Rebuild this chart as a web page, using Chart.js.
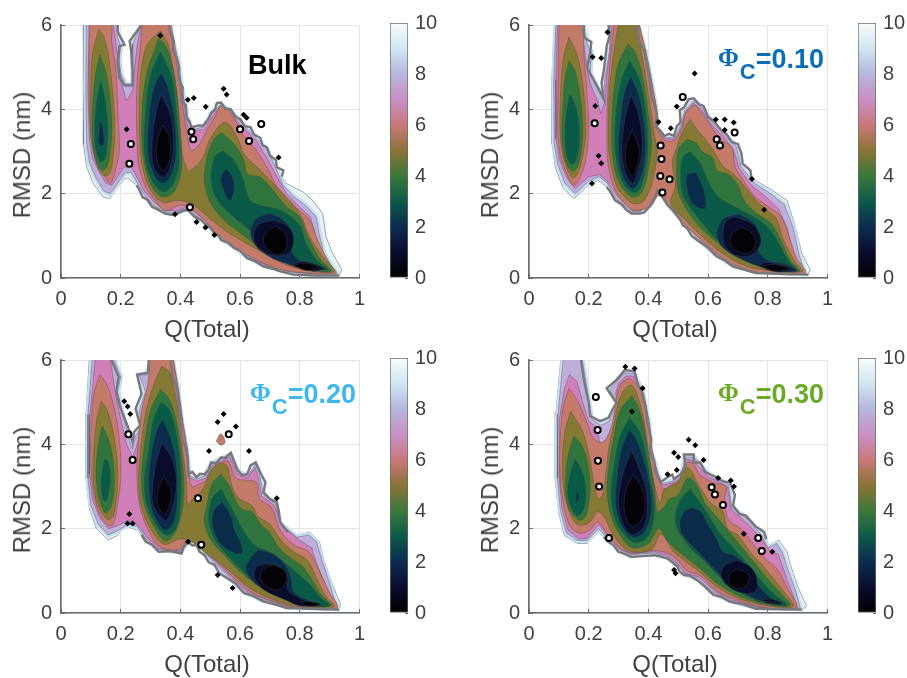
<!DOCTYPE html>
<html>
<head>
<meta charset="utf-8">
<title>Free energy landscapes</title>
<script src="https://cdn.jsdelivr.net/npm/chart.js@4"></script>
<style>
    html, body { margin: 0; padding: 0; background: #fff; }
    body { position: relative; width: 907px; height: 678px; overflow: hidden; }
    canvas { position: absolute; }
    .tag { position: absolute; font: bold 27px "Liberation Sans", Arial, sans-serif; white-space: nowrap; }
    .tag i { font: bold 25px "Liberation Serif", serif; vertical-align: 2px; margin-right: 1px; }
    .tag sub { font-size: 22px; line-height: 0; vertical-align: -11px; }
    .axis-title { position: absolute; font: 24px "Liberation Sans", Arial, sans-serif; color: #404040; white-space: nowrap; }
</style>
</head>
<body>
<script>
// ==================== Shared axes data ====================
const qTicks = [0, 0.2, 0.4, 0.6, 0.8, 1];
const rmsdTicks = [0, 2, 4, 6];
const energyTicks = [0, 2, 4, 6, 8, 10];
const qTitle = 'Q(Total)';
const rmsdTitle = 'RMSD (nm)';
// outermost to innermost contour band
const bandColors = ['#e6f2f3', '#bfaed9', '#d07fb8', '#c47a68', '#857a34', '#30743e', '#0a5a48', '#0c2c4c', '#0a0c2c', '#030308'];
const fringeColor = '#c4dff2';
const colorbarStops = ['#000000', '#0a0c2c', '#0c2c50', '#0c5a48', '#3a783a', '#8a7436', '#c8787a', '#c98fc4', '#b6b6dc', '#cfe6f0', '#f8fcfa'];

// ==================== Bulk ====================
const bulkSoftLeft = [[.077,6.05],[.075,4.75],[.075,3.18],[.086,2.63],[.108,2.24],[.141,1.92],[.163,1.88],[.19,2.16],[.212,2.35],[.223,2.37]];
const bulkCliffLow = [[.253,2.2],[.262,2.1],[.273,1.92],[.29,1.85],[.305,1.69],[.325,1.62],[.349,1.53],[.37,1.5],[.388,1.53],[.41,1.6],[.426,1.61],[.44,1.5],[.448,1.45],[.47,1.38],[.481,1.29],[.5,1.2],[.514,1.06],[.53,1],[.536,.9],[.56,.84],[.58,.71],[.6,.65],[.624,.47],[.65,.4],[.679,.27],[.71,.22],[.734,.16],[.778,.08],[.844,.06],[.932,.06]];
const bulkSoftRight = [[.941,.2],[.91,.59],[.888,.98],[.877,1.53],[.844,1.84],[.811,2.04],[.756,2.24]];
const bulkCliffTop = [[.74,2.4],[.745,2.55],[.723,2.63],[.72,2.8],[.7,2.9],[.69,3.1],[.675,3.15],[.668,3.32],[.646,3.41],[.635,3.58],[.615,3.6],[.602,3.76],[.585,3.82],[.569,4],[.55,4.02],[.536,4.16],[.522,4.15],[.515,3.98],[.503,3.92],[.495,3.78],[.476,3.61],[.46,3.62],[.437,3.57],[.43,3.72],[.421,3.8],[.418,4.1],[.404,4.2],[.408,4.51],[.395,4.7],[.396,5],[.388,5.22],[.375,5.4],[.378,5.6],[.366,5.84],[.36,6.05],[.273,6.05],[.253,5.84],[.23,5.62],[.235,5.4],[.24,4.9],[.24,4.57],[.213,4.57],[.196,4.75],[.19,5.1],[.196,5.5],[.213,5.53],[.19,5.84],[.19,6.05]];
const bulkBand8 = [[[.085,6.05],[.083,4.5],[.086,3.2],[.095,2.75],[.115,2.4],[.145,2.05],[.165,2],[.19,2.25],[.215,2.5],[.235,2.5],[.26,2.2],[.28,1.97],[.31,1.72],[.35,1.56],[.39,1.56],[.43,1.65],[.45,1.48],[.485,1.3],[.515,1.08],[.54,.92],[.58,.74],[.625,.5],[.68,.3],[.735,.2],[.78,.12],[.85,.1],[.925,.1],[.91,.25],[.88,.6],[.865,1.05],[.855,1.45],[.82,1.72],[.78,1.93],[.745,2.2],[.72,2.6],[.69,3.05],[.645,3.38],[.6,3.72],[.57,3.95],[.535,4.12],[.505,3.9],[.478,3.58],[.44,3.52],[.425,3.75],[.405,4.5],[.39,5.2],[.368,5.82],[.36,6.05],[.28,6.05],[.255,5.8],[.24,5.55],[.24,5],[.24,4.6],[.215,4.6],[.2,4.85],[.195,5.2],[.2,5.5],[.19,5.7],[.185,6.05]]];
const bulkBand7 = [[[.095,6.05],[.09,4.5],[.095,3.3],[.105,2.85],[.125,2.55],[.15,2.25],[.17,2.2],[.19,2.4],[.21,2.62],[.235,2.65],[.255,2.38],[.28,2.05],[.315,1.78],[.35,1.6],[.39,1.6],[.435,1.7],[.455,1.52],[.49,1.33],[.52,1.1],[.55,.93],[.59,.74],[.63,.52],[.685,.31],[.74,.2],[.79,.13],[.85,.11],[.915,.12],[.895,.35],[.87,.6],[.85,1.1],[.835,1.45],[.79,1.75],[.755,2],[.72,2.45],[.69,2.85],[.655,3.25],[.6,3.65],[.57,3.88],[.535,4.08],[.505,3.82],[.48,3.52],[.44,3.5],[.425,3.6],[.41,4.3],[.395,5],[.375,5.8],[.37,6.05],[.27,6.05],[.255,5.5],[.25,5.2],[.245,4.9],[.24,4.45],[.22,4.2],[.205,4.55],[.195,5],[.185,5.5],[.175,6.05]]];
const bulkBand6 = [
    [[.095,6.05],[.094,4.5],[.1,3.4],[.115,2.95],[.14,2.5],[.165,2.25],[.18,2.5],[.195,3],[.19,4],[.183,5],[.17,5.6],[.165,6.05]],
    [[.273,6.05],[.267,5.53],[.256,4.75],[.253,3.96],[.256,3.02],[.264,2.55],[.284,2.16],[.311,1.88],[.349,1.6],[.404,1.73],[.448,1.57],[.481,1.37],[.514,1.1],[.558,.86],[.613,.59],[.679,.35],[.734,.2],[.822,.12],[.921,.12],[.899,.35],[.86,.9],[.833,1.37],[.784,1.69],[.756,1.84],[.723,2.16],[.69,2.63],[.646,3.1],[.608,3.41],[.569,3.92],[.536,4.08],[.514,3.8],[.487,3.49],[.465,3.18],[.437,3.02],[.426,3.25],[.415,3.73],[.399,4.51],[.382,5.29],[.366,5.84],[.36,6.05]]
];
const bulkBand5 = [
    [[.127,5.9],[.105,5.3],[.1,4.5],[.098,3.6],[.105,3.1],[.125,2.6],[.145,2.42],[.165,2.5],[.175,2.9],[.18,3.5],[.175,4.3],[.16,5.2],[.145,5.7]],
    [[.333,5.86],[.295,5.6],[.278,5.3],[.266,4.75],[.262,3.96],[.264,3.18],[.273,2.63],[.295,2.16],[.338,1.8],[.393,1.84],[.437,1.76],[.492,1.45],[.547,1.14],[.602,.9],[.679,.59],[.756,.31],[.844,.16],[.915,.16],[.877,.51],[.833,.98],[.8,1.53],[.734,2.08],[.679,2.47],[.657,2.63],[.613,2.94],[.591,3.33],[.553,3.69],[.525,3.57],[.492,3.18],[.476,2.86],[.448,2.63],[.426,2.55],[.399,3.18],[.388,3.96],[.377,4.75],[.36,5.53]]
];
const bulkBand4 = [
    [[.13,5.3],[.115,4.8],[.107,4.2],[.104,3.5],[.11,3],[.125,2.65],[.14,2.55],[.155,2.65],[.165,3],[.17,3.5],[.165,4.2],[.15,4.9]],
    [[.327,5.69],[.284,4.75],[.27,3.57],[.278,2.78],[.305,2.16],[.344,1.92],[.382,2.08],[.404,2.63],[.399,3.57],[.382,4.75],[.355,5.45]],
    [[.536,3.45],[.509,3.25],[.487,2.78],[.481,2.24],[.503,1.76],[.547,1.37],[.602,1.06],[.668,.71],[.734,.43],[.8,.24],[.905,.16],[.866,.47],[.822,1.06],[.8,1.45],[.756,1.69],[.701,2.16],[.668,2.39],[.624,2.47],[.613,2.78],[.58,3.18]]
];
const bulkBand3 = [
    [[.132,4.67],[.12,4.2],[.113,3.6],[.115,3.1],[.125,2.85],[.135,2.75],[.148,2.85],[.155,3.2],[.157,3.6],[.15,4.1],[.14,4.5]],
    [[.333,5.37],[.3,4.82],[.284,3.96],[.28,2.94],[.305,2.31],[.344,2.04],[.377,2.24],[.396,2.78],[.388,3.8],[.371,4.75]],
    [[.542,3.02],[.514,2.86],[.503,2.31],[.525,1.84],[.591,1.37],[.646,1.06],[.712,.63],[.767,.35],[.833,.24],[.894,.2],[.855,.43],[.822,.82],[.795,1.29],[.734,1.61],[.69,1.69],[.635,1.84],[.608,2.39],[.58,2.78]]
];
const bulkBand2 = [
    [[.13,3.73],[.127,3.4],[.128,3.16],[.142,3.16],[.143,3.4],[.136,3.65]],
    [[.336,4.86],[.311,4.51],[.295,3.8],[.292,2.94],[.316,2.39],[.344,2.25],[.371,2.47],[.386,3.02],[.377,3.96],[.355,4.59]],
    [[.553,2.59],[.536,2.39],[.541,2.16],[.564,1.83],[.58,2.08],[.575,2.39]],
    [[.7,1.53],[.655,1.41],[.635,1.12],[.65,.78],[.7,.5],[.76,.33],[.82,.2],[.885,.2],[.85,.33],[.8,.42],[.775,.63],[.775,.95],[.76,1.25],[.73,1.45]]
];
const bulkBand1 = [
    [[.336,4.35],[.319,3.96],[.305,3.18],[.311,2.63],[.344,2.39],[.366,2.63],[.377,3.18],[.366,3.88]],
    [[.712,1.37],[.668,1.29],[.646,1.06],[.657,.75],[.712,.53],[.762,.59],[.78,.9],[.762,1.22]],
    [[.772,.31],[.811,.39],[.877,.24],[.844,.16]]
];
const bulkBand0 = [
    [[.341,3.63],[.322,3.25],[.322,2.78],[.344,2.55],[.366,2.86],[.363,3.33]],
    [[.718,1.22],[.685,1.06],[.679,.82],[.712,.57],[.747,.6],[.758,.86],[.745,1.1]],
    [[.778,.3],[.816,.35],[.86,.26],[.822,.18]]
];
const bulkDots = [[.545,4.49],[.555,4.35],[.445,4.27],[.425,4.23],[.485,4.06],[.622,3.8],[.612,3.87],[.729,2.86],[.382,1.51],[.454,1.33],[.484,1.2],[.514,1.02],[.333,5.75],[.22,3.53]];
const bulkRings = [[.63,3.25],[.443,3.29],[.437,3.47],[.671,3.65],[.6,3.53],[.234,3.18],[.229,2.71],[.432,1.68]];

// ==================== Phi 0.10 ====================
const phi10SoftLeft = [[.085,6.05],[.077,4.75],[.077,3.18],[.088,2.63],[.112,2.16],[.151,1.88],[.205,2.24],[.233,2.31]];
const phi10CliffLow = [[.26,2.16],[.272,2.05],[.288,1.84],[.31,1.75],[.325,1.62],[.343,1.53],[.37,1.53],[.385,1.55],[.403,1.69],[.42,1.9],[.431,2.08],[.445,1.95],[.464,1.73],[.48,1.62],[.508,1.37],[.515,1.25],[.53,1.18],[.545,1],[.563,.9],[.595,.75],[.629,.51],[.655,.42],[.684,.27],[.72,.2],[.76,.12],[.936,.08]];
const phi10SoftRight = [[.942,.2],[.914,.59],[.892,1.22],[.865,1.84],[.815,2.08],[.76,2.31]];
const phi10CliffTop = [[.745,2.4],[.742,2.55],[.716,2.71],[.712,2.95],[.7,3.18],[.68,3.22],[.662,3.41],[.645,3.5],[.618,3.73],[.6,3.82],[.585,4.08],[.57,4.12],[.552,4.26],[.535,4.24],[.519,4.04],[.505,3.98],[.508,3.69],[.495,3.6],[.486,3.37],[.47,3.42],[.453,3.37],[.44,3.5],[.425,3.57],[.428,3.9],[.42,4.12],[.41,4.3],[.403,4.75],[.395,5],[.387,5.37],[.37,5.6],[.359,6.05],[.266,6.05],[.27,5.73],[.261,5.53],[.25,4.9],[.243,4.63],[.25,4.25],[.228,4.55],[.195,4.98],[.205,5.35],[.209,5.6],[.184,5.7],[.184,6.05]];
const phi10Band8 = [[[.09,6.05],[.083,4.7],[.084,3.2],[.096,2.7],[.12,2.25],[.155,2],[.2,2.3],[.235,2.4],[.262,2.25],[.29,1.9],[.343,1.57],[.372,1.57],[.405,1.73],[.433,2.12],[.466,1.75],[.51,1.39],[.532,1.2],[.565,.93],[.63,.54],[.685,.3],[.76,.15],[.925,.1],[.905,.55],[.885,1.2],[.855,1.75],[.81,2],[.755,2.25],[.71,2.65],[.695,3.12],[.658,3.37],[.615,3.68],[.583,4.02],[.552,4.2],[.522,3.98],[.51,3.65],[.488,3.33],[.453,3.33],[.43,3.53],[.424,4.1],[.407,4.75],[.39,5.37],[.362,6.05],[.272,6.05],[.27,5.4],[.255,4.8],[.25,4.3],[.235,4.45],[.205,4.85],[.21,5.35],[.195,5.55],[.18,6.05]]];
const phi10Band7 = [[[.095,6.05],[.09,4.7],[.09,3.3],[.102,2.8],[.125,2.4],[.155,2.12],[.2,2.4],[.235,2.45],[.262,2.3],[.295,1.95],[.345,1.6],[.375,1.6],[.408,1.78],[.436,2.15],[.468,1.78],[.51,1.42],[.535,1.22],[.57,.95],[.635,.57],[.69,.32],[.77,.15],[.915,.13],[.885,.6],[.865,1.2],[.835,1.65],[.79,1.95],[.745,2.2],[.705,2.6],[.685,3.05],[.655,3.33],[.61,3.65],[.58,3.98],[.552,4.15],[.525,3.95],[.512,3.6],[.49,3.3],[.455,3.3],[.432,3.48],[.428,4],[.41,4.7],[.393,5.3],[.368,6.05],[.278,6.05],[.272,5.4],[.26,4.8],[.255,4.2],[.24,3.9],[.23,4.2],[.205,4.6],[.19,5.2],[.175,6.05]]];
const phi10Band6 = [
    [[.1,6.05],[.098,4.7],[.096,3.5],[.105,2.9],[.125,2.5],[.145,2.2],[.165,2.3],[.19,2.8],[.2,3.5],[.195,4.3],[.185,5.2],[.17,6.05]],
    [[.285,6.05],[.27,5],[.262,4],[.262,3],[.27,2.5],[.295,2],[.345,1.62],[.375,1.62],[.409,1.7],[.435,1.95],[.468,1.72],[.51,1.35],[.54,1.15],[.58,.88],[.64,.52],[.7,.28],[.78,.12],[.925,.12],[.895,.5],[.875,.9],[.845,1.45],[.8,1.7],[.755,1.95],[.72,2.3],[.69,2.65],[.68,3.1],[.64,3.3],[.61,3.6],[.58,3.9],[.553,4.1],[.525,3.9],[.515,3.6],[.49,3.28],[.46,3.25],[.435,3.45],[.43,3.9],[.415,4.5],[.4,5.1],[.38,5.7],[.362,6.05]]
];
const phi10Band5 = [
    [[.134,5.72],[.115,5.2],[.106,4.4],[.104,3.5],[.112,2.95],[.13,2.55],[.148,2.37],[.165,2.5],[.18,2.9],[.19,3.4],[.185,4.3],[.165,5.2]],
    [[.3,6.05],[.285,5.4],[.27,4.5],[.266,3.6],[.268,3],[.28,2.5],[.3,2.1],[.345,1.78],[.38,1.8],[.405,2.1],[.42,2.5],[.43,3],[.42,3.4],[.41,3.9],[.39,4.8],[.37,5.6],[.36,6.05]],
    [[.54,3.76],[.51,3.4],[.49,3],[.48,2.75],[.49,2.2],[.475,1.75],[.52,1.4],[.57,1.05],[.63,.68],[.69,.4],[.76,.22],[.915,.15],[.89,.4],[.85,.95],[.83,1.4],[.79,1.65],[.76,1.85],[.72,2.2],[.68,2.5],[.65,2.65],[.62,3],[.59,3.3],[.565,3.5]]
];
const phi10Band4 = [
    [[.134,5.15],[.12,4.7],[.113,4],[.11,3.4],[.118,2.9],[.13,2.65],[.147,2.53],[.163,2.65],[.175,3],[.18,3.5],[.172,4.3],[.155,4.9]],
    [[.332,5.55],[.3,5.1],[.282,4.3],[.277,3.4],[.282,2.8],[.3,2.3],[.345,1.92],[.38,2.05],[.4,2.6],[.41,3.2],[.4,3.9],[.385,4.6],[.36,5.3]],
    [[.53,3.29],[.5,3.05],[.495,2.5],[.5,2.05],[.53,1.6],[.58,1.15],[.63,.85],[.7,.48],[.77,.3],[.905,.16],[.875,.42],[.84,.95],[.81,1.3],[.76,1.55],[.72,1.85],[.7,2.2],[.67,2.45],[.63,2.55],[.615,2.85],[.58,3],[.56,3.2]]
];
const phi10Band3 = [
    [[.136,4.35],[.125,3.9],[.12,3.4],[.125,2.95],[.135,2.75],[.148,2.7],[.16,2.85],[.168,3.2],[.165,3.8],[.15,4.2]],
    [[.337,5.15],[.31,4.7],[.293,4],[.288,3.2],[.298,2.6],[.32,2.2],[.35,2.03],[.375,2.15],[.395,2.8],[.398,3.3],[.39,4],[.37,4.7]],
    [[.54,3],[.515,2.85],[.508,2.3],[.52,1.9],[.57,1.4],[.62,.98],[.68,.6],[.74,.38],[.8,.25],[.9,.16],[.87,.4],[.835,.85],[.8,1.2],[.76,1.42],[.7,1.65],[.66,1.8],[.63,1.95],[.6,2.3],[.575,2.7]]
];
const phi10Band2 = [
    [[.341,4.78],[.32,4.4],[.305,3.7],[.3,3],[.315,2.4],[.348,2.12],[.375,2.4],[.39,3],[.385,3.7],[.365,4.4]],
    [[.56,2.5],[.53,2.45],[.53,2.1],[.55,1.75],[.59,1.65],[.585,2.1]],
    [[.7,1.52],[.65,1.4],[.63,1.05],[.65,.72],[.72,.42],[.76,.3],[.82,.16],[.895,.17],[.86,.33],[.8,.42],[.77,.62],[.77,.95],[.76,1.25],[.73,1.42]]
];
const phi10Band1 = [
    [[.341,4.33],[.325,3.9],[.312,3.2],[.318,2.6],[.347,2.25],[.368,2.6],[.38,3.1],[.375,3.6],[.36,4.05]],
    [[.69,1.45],[.66,1.35],[.65,1.05],[.66,.72],[.7,.52],[.75,.56],[.777,.85],[.765,1.15],[.74,1.32]],
    [[.77,.3],[.8,.37],[.88,.22],[.835,.14]]
];
const phi10Band0 = [
    [[.345,3.5],[.325,3.1],[.325,2.7],[.347,2.42],[.366,2.75],[.368,3.1]],
    [[.71,1.2],[.68,1.05],[.675,.8],[.71,.6],[.745,.62],[.76,.88],[.74,1.12]],
    [[.78,.28],[.82,.32],[.87,.22],[.82,.16]]
];
const phi10Dots = [[.213,5.24],[.242,5.22],[.263,5.83],[.555,4.85],[.495,4.07],[.434,3.7],[.475,3.55],[.626,3.76],[.656,3.76],[.656,3.51],[.686,3.69],[.222,4.08],[.233,2.9],[.242,2.72],[.211,2.24],[.747,2.35],[.788,1.62]];
const phi10Rings = [[.22,3.67],[.441,3.14],[.444,2.82],[.44,2.42],[.471,2.34],[.447,2.03],[.629,3.29],[.64,3.14],[.515,4.29],[.689,3.45]];

// ==================== Phi 0.20 ====================
const phi20SoftLeft = [[.095,6.05],[.084,4.75],[.084,3.18],[.095,2.47],[.119,2],[.157,1.73],[.19,1.84],[.213,2.08],[.256,1.96]];
const phi20CliffLow = [[.27,1.85],[.284,1.69],[.305,1.62],[.327,1.45],[.365,1.47],[.404,1.41],[.41,1.55],[.426,1.69],[.44,1.6],[.454,1.61],[.465,1.45],[.481,1.37],[.495,1.2],[.514,1.14],[.53,.95],[.558,.82],[.585,.7],[.613,.47],[.645,.4],[.679,.27],[.72,.2],[.756,.12],[.932,.08]];
const phi20SoftRight = [[.937,.2],[.91,.67],[.882,1.22],[.866,1.69],[.833,1.92],[.789,1.84]];
const phi20CliffTop = [[.76,1.92],[.734,2.16],[.73,2.4],[.723,2.63],[.7,2.7],[.679,2.86],[.685,3.1],[.668,3.33],[.652,3.57],[.635,3.5],[.624,3.29],[.605,3.27],[.591,3.41],[.58,3.6],[.569,3.8],[.55,3.68],[.536,3.69],[.52,3.55],[.503,3.57],[.495,3.4],[.481,3.29],[.465,3.3],[.454,3.22],[.44,3.35],[.426,3.29],[.425,3.7],[.415,3.96],[.405,4.1],[.399,4.59],[.395,5],[.388,5.37],[.375,5.55],[.366,6.05],[.295,6.05],[.29,5.7],[.255,5.65],[.27,5.2],[.25,4.85],[.265,4.45],[.245,4.3],[.24,4.05],[.225,4.4],[.2,4.85],[.185,5.25],[.193,5.6],[.166,6.05]];
const phi20Band8 = [[[.105,6.05],[.09,4.7],[.09,3.2],[.1,2.55],[.125,2.1],[.158,1.85],[.19,1.95],[.225,2.1],[.255,2.05],[.285,1.75],[.328,1.5],[.403,1.45],[.426,1.73],[.456,1.65],[.484,1.4],[.516,1.17],[.56,.86],[.615,.5],[.68,.3],[.76,.14],[.925,.1],[.9,.7],[.875,1.25],[.855,1.7],[.83,1.85],[.79,1.8],[.735,2.12],[.72,2.58],[.678,2.82],[.665,3.3],[.652,3.52],[.625,3.25],[.59,3.36],[.568,3.76],[.535,3.65],[.503,3.53],[.482,3.25],[.455,3.18],[.43,3.25],[.42,3.9],[.403,4.6],[.392,5.3],[.372,6.05],[.3,6.05],[.295,5.65],[.262,5.65],[.283,5.25],[.262,4.8],[.27,4.4],[.25,4.2],[.238,3.9],[.222,4.3],[.205,4.75],[.19,5.25],[.2,5.6],[.175,6.05]]];
const phi20Band7 = [[[.115,6.05],[.097,4.7],[.095,3.3],[.105,2.7],[.13,2.25],[.16,2],[.19,2.07],[.225,2.2],[.255,2.1],[.29,1.78],[.33,1.52],[.4,1.47],[.428,1.77],[.46,1.68],[.486,1.42],[.52,1.2],[.565,.88],[.62,.52],[.685,.32],[.77,.14],[.915,.13],[.885,.7],[.855,1.2],[.84,1.55],[.8,1.72],[.74,2.08],[.715,2.55],[.672,2.78],[.66,3.25],[.65,3.45],[.625,3.2],[.59,3.3],[.565,3.7],[.535,3.6],[.505,3.48],[.485,3.2],[.457,3.13],[.432,3.2],[.425,3.85],[.408,4.55],[.395,5.25],[.376,6.05],[.305,6.05],[.3,5.6],[.29,5.2],[.275,4.8],[.26,4.1],[.24,3.7],[.22,4],[.2,4.6],[.18,5.3],[.165,6.05]]];
const phi20Band6 = [
    [[.13,5.65],[.11,5.2],[.102,4.5],[.1,3.5],[.11,2.8],[.13,2.35],[.155,2.1],[.175,2.1],[.19,2.6],[.2,3.2],[.197,4],[.18,4.8],[.155,5.4]],
    [[.3,6.05],[.29,5.4],[.27,4.8],[.258,4],[.255,3.1],[.265,2.5],[.29,2],[.33,1.58],[.4,1.52],[.43,1.82],[.465,1.7],[.49,1.43],[.525,1.2],[.57,.9],[.625,.55],[.69,.33],[.78,.14],[.925,.12],[.895,.55],[.865,1],[.83,1.45],[.78,1.62],[.735,1.95],[.705,2.5],[.665,2.72],[.655,3.1],[.62,3.15],[.585,3.2],[.56,3.6],[.535,3.55],[.505,3.4],[.487,3.15],[.46,3.05],[.44,3],[.43,3.2],[.425,3.75],[.41,4.4],[.397,5.1],[.38,5.8],[.37,6.05]],
    [[.52,4.08],[.536,4.25],[.55,4.05],[.535,3.98]]
];
const phi20Band5 = [
    [[.135,5.02],[.12,4.6],[.11,3.9],[.108,3.2],[.115,2.75],[.135,2.4],[.157,2.22],[.175,2.3],[.187,2.8],[.19,3.3],[.18,4.1],[.155,4.8]],
    [[.337,5.85],[.305,5.3],[.28,4.6],[.265,3.7],[.26,3],[.27,2.5],[.3,2],[.345,1.63],[.395,1.75],[.43,1.72],[.48,1.45],[.52,1.25],[.575,.93],[.63,.6],[.69,.38],[.78,.17],[.915,.15],[.885,.42],[.855,.85],[.825,1.25],[.78,1.45],[.74,1.7],[.7,2.1],[.66,2.3],[.64,2.55],[.6,2.7],[.575,2.95],[.555,3.5],[.53,3.55],[.5,3.35],[.48,3],[.46,2.8],[.44,2.7],[.425,2.55],[.42,3.1],[.405,4],[.39,4.9],[.365,5.7]]
];
const phi20Band4 = [
    [[.138,4.43],[.125,4],[.118,3.4],[.122,2.9],[.135,2.55],[.15,2.38],[.167,2.5],[.178,3],[.175,3.6],[.16,4.1]],
    [[.333,5.3],[.3,4.8],[.28,4],[.27,3.3],[.275,2.7],[.3,2.2],[.347,1.72],[.38,1.88],[.405,2.4],[.412,3],[.403,3.8],[.385,4.6],[.36,5.1]],
    [[.536,3.29],[.505,3.05],[.49,2.6],[.48,2.2],[.5,1.75],[.54,1.42],[.59,1.05],[.64,.75],[.7,.48],[.78,.25],[.905,.17],[.87,.45],[.84,.8],[.81,1.1],[.77,1.3],[.73,1.55],[.7,1.9],[.67,2.1],[.64,2.4],[.61,2.45],[.59,2.6],[.565,3]]
];
const phi20Band3 = [
    [[.146,3.65],[.135,3.2],[.14,2.72],[.152,2.65],[.165,3.2],[.157,3.6]],
    [[.336,5],[.31,4.6],[.295,3.9],[.28,3.2],[.285,2.65],[.31,2.2],[.35,1.85],[.385,2],[.4,2.6],[.402,3.3],[.39,4.1],[.365,4.8]],
    [[.536,2.94],[.505,2.7],[.495,2.2],[.515,1.75],[.56,1.35],[.62,.92],[.68,.55],[.75,.33],[.83,.17],[.9,.17],[.87,.36],[.83,.7],[.79,.95],[.74,1.25],[.7,1.45],[.65,1.6],[.62,1.85],[.6,2.1],[.57,2.5]]
];
const phi20Band2 = [
    [[.339,4.6],[.315,4.2],[.295,3.3],[.3,2.6],[.32,2.2],[.35,1.96],[.38,2.2],[.39,2.9],[.385,3.6],[.365,4.2]],
    [[.54,2.63],[.51,2.4],[.51,2],[.54,1.6],[.59,1.4],[.607,1.45],[.6,1.7],[.58,2],[.57,2.3]],
    [[.66,1.5],[.63,1.25],[.62,1],[.66,.65],[.72,.42],[.78,.25],[.87,.18],[.83,.3],[.78,.5],[.77,.85],[.75,1.15],[.71,1.4]]
];
const phi20Band1 = [
    [[.339,4.04],[.32,3.6],[.307,3],[.31,2.55],[.35,2.2],[.375,2.55],[.387,3.1],[.375,3.6]],
    [[.69,1.17],[.655,1.1],[.648,.85],[.68,.55],[.75,.32],[.8,.17],[.865,.17],[.8,.35],[.76,.55],[.76,.85],[.74,1.05]]
];
const phi20Band0 = [
    [[.343,3.25],[.325,2.9],[.325,2.55],[.347,2.35],[.366,2.6],[.37,2.9]],
    [[.71,1.15],[.68,1.05],[.668,.85],[.69,.62],[.73,.55],[.755,.75],[.75,1]],
    [[.8,.27],[.84,.26],[.87,.2],[.82,.17]]
];
const phi20Dots = [[.545,4.72],[.525,4.53],[.586,4.42],[.496,3.84],[.212,5.02],[.223,4.9],[.232,4.72],[.63,3.84],[.723,2.72],[.525,.9],[.575,.59],[.223,2.12],[.24,2.12],[.229,2.35],[.426,1.69]];
const phi20Rings = [[.24,3.63],[.459,2.72],[.47,1.62],[.226,4.24],[.562,4.24]];

// ==================== Phi 0.30 ====================
const phi30SoftLeft = [[.107,6.05],[.09,4.75],[.088,3.18],[.099,2.39],[.118,1.84],[.161,1.65],[.195,1.65],[.233,1.92]];
const phi30CliffLow = [[.25,1.8],[.266,1.69],[.285,1.6],[.299,1.45],[.32,1.4],[.343,1.33],[.38,1.35],[.42,1.37],[.44,1.34],[.464,1.29],[.48,1.2],[.497,1.1],[.505,.98],[.519,.9],[.54,.88],[.563,.78],[.59,.62],[.618,.43],[.645,.38],[.673,.27],[.72,.2],[.76,.1],[.914,.08]];
const phi30SoftRight = [[.93,.16],[.903,.59],[.876,1.14],[.865,1.45],[.837,1.73],[.804,1.61]];
const phi30CliffTop = [[.795,1.75],[.788,1.92],[.76,2.05],[.727,2.31],[.705,2.35],[.684,2.55],[.69,2.8],[.673,3.1],[.65,3.12],[.629,3.22],[.607,3.29],[.59,3.35],[.574,3.57],[.552,3.57],[.552,3.76],[.519,3.76],[.525,3.5],[.508,3.29],[.486,3.18],[.48,3.28],[.46,3.2],[.442,3.1],[.425,3.33],[.42,3.6],[.403,3.88],[.41,4.1],[.398,4.51],[.39,4.9],[.376,5.29],[.365,5.4],[.354,5.73],[.321,5.76],[.293,5.53],[.26,5.33],[.293,4.98],[.282,4.86],[.266,4.63],[.238,4.55],[.205,4.67],[.2,5],[.184,5.53],[.173,6.05]];
const phi30Band8 = [[[.115,6.05],[.097,4.7],[.095,3.2],[.105,2.45],[.125,1.9],[.162,1.72],[.195,1.72],[.233,2],[.266,1.75],[.3,1.5],[.343,1.38],[.42,1.42],[.464,1.33],[.5,1.13],[.52,.93],[.565,.82],[.62,.47],[.675,.29],[.76,.13],[.91,.1],[.89,.6],[.862,1.14],[.85,1.42],[.83,1.65],[.8,1.55],[.78,1.85],[.725,2.27],[.68,2.5],[.668,3.05],[.63,3.17],[.607,3.25],[.574,3.52],[.552,3.7],[.522,3.7],[.512,3.29],[.486,3.14],[.445,3.06],[.43,3.33],[.408,3.88],[.402,4.5],[.38,5.25],[.352,5.68],[.322,5.7],[.296,5.5],[.27,5.3],[.298,4.98],[.285,4.8],[.268,4.55],[.24,4.45],[.21,4.6],[.19,5.5],[.178,6.05]]];
const phi30Band7 = [[[.135,5.65],[.118,5.3],[.102,4.6],[.1,3.3],[.11,2.5],[.13,1.97],[.165,1.76],[.195,1.77],[.233,2.1],[.266,1.8],[.302,1.52],[.345,1.4],[.42,1.45],[.464,1.37],[.5,1.16],[.522,.95],[.57,.85],[.625,.5],[.68,.31],[.77,.13],[.9,.13],[.875,.6],[.85,1.1],[.835,1.4],[.81,1.45],[.775,1.8],[.72,2.2],[.678,2.45],[.665,3],[.625,3.15],[.605,3.2],[.572,3.45],[.55,3.62],[.525,3.65],[.515,3.25],[.488,3.1],[.447,3.03],[.432,3.28],[.41,3.85],[.405,4.45],[.385,5.2],[.35,5.62],[.325,5.62],[.3,5.45],[.29,5.2],[.3,4.9],[.288,4.5],[.265,4.1],[.24,4],[.225,4.4],[.2,4.55],[.18,5],[.16,5.5]]];
const phi30Band6 = [[[.134,5.33],[.115,4.9],[.105,4.2],[.104,3.2],[.115,2.6],[.135,2.1],[.165,1.9],[.2,1.95],[.23,2.15],[.25,2],[.275,1.75],[.305,1.55],[.345,1.42],[.42,1.48],[.47,1.4],[.505,1.2],[.53,1],[.575,.88],[.63,.52],[.69,.33],[.78,.14],[.895,.12],[.865,.6],[.83,1.05],[.79,1.3],[.75,1.65],[.71,2],[.67,2.2],[.655,2.7],[.66,3],[.615,3.1],[.57,3.3],[.55,3.55],[.525,3.55],[.51,3.2],[.48,3.05],[.45,2.95],[.435,3.2],[.415,3.8],[.405,4.3],[.385,5.1],[.35,5.5],[.33,5.55],[.305,5.4],[.29,5],[.285,4.7],[.27,4.3],[.245,4.05],[.215,4.15],[.195,4.5],[.165,5]]];
const phi30Band5 = [[[.14,4.78],[.12,4.3],[.112,3.5],[.118,2.85],[.135,2.4],[.16,2.1],[.19,2.1],[.21,2.2],[.23,2.4],[.25,2.3],[.275,1.95],[.31,1.6],[.345,1.45],[.41,1.5],[.442,1.87],[.485,1.45],[.52,1.25],[.57,.98],[.63,.62],[.7,.35],[.79,.18],[.885,.15],[.855,.5],[.815,.85],[.78,1.15],[.74,1.45],[.7,1.85],[.665,2],[.65,2.4],[.61,2.6],[.585,2.85],[.56,3.15],[.54,3.4],[.52,3.45],[.5,3.1],[.47,3],[.45,2.9],[.44,2.6],[.425,2.9],[.41,3.4],[.395,4.1],[.375,4.9],[.345,5.4],[.32,5.3],[.3,5],[.285,4.5],[.27,4],[.26,3.5],[.25,2.9],[.235,2.7],[.22,3],[.205,3.6],[.18,4.3]]];
const phi30Band4 = [
    [[.15,4.2],[.13,3.7],[.122,3],[.13,2.55],[.15,2.3],[.175,2.2],[.195,2.4],[.205,3],[.195,3.6],[.175,4]],
    [[.345,5.15],[.305,4.8],[.285,4.2],[.268,3.5],[.262,2.8],[.28,2.2],[.31,1.8],[.345,1.55],[.4,1.65],[.435,2],[.465,1.7],[.52,1.35],[.575,1.05],[.635,.68],[.71,.38],[.8,.2],[.875,.18],[.845,.45],[.8,.8],[.76,1.15],[.72,1.5],[.68,1.85],[.65,2.1],[.62,2.35],[.59,2.6],[.565,3],[.54,3.2],[.525,3.15],[.5,2.8],[.47,2.7],[.45,2.5],[.43,2.4],[.42,3],[.405,3.6],[.385,4.4],[.365,4.9]]
];
const phi30Band3 = [
    [[.154,3.65],[.135,3.2],[.13,2.8],[.145,2.45],[.165,2.3],[.185,2.5],[.19,3],[.175,3.4]],
    [[.337,4.63],[.305,4.2],[.285,3.5],[.275,2.9],[.285,2.3],[.315,1.9],[.35,1.68],[.39,1.75],[.415,2.1],[.42,2.6],[.405,3.2],[.39,3.8],[.37,4.3]],
    [[.54,2.94],[.51,2.7],[.49,2.3],[.5,1.95],[.54,1.55],[.585,1.25],[.64,.85],[.7,.52],[.78,.25],[.865,.18],[.82,.45],[.78,.75],[.74,1.1],[.69,1.5],[.65,1.8],[.62,2.1],[.585,2.5]]
];
const phi30Band2 = [
    [[.16,2.85],[.158,2.65],[.165,2.65],[.165,2.85]],
    [[.337,4.35],[.31,3.9],[.295,3.2],[.29,2.6],[.305,2.15],[.345,1.8],[.385,1.9],[.41,2.4],[.405,3],[.385,3.6],[.36,4.1]],
    [[.545,2.5],[.52,2.4],[.505,2.15],[.515,1.85],[.56,1.5],[.62,1.05],[.68,.65],[.76,.33],[.84,.2],[.8,.42],[.77,.65],[.74,1.05],[.69,1.35],[.65,1.45],[.63,1.75],[.6,2.1],[.575,2.4]]
];
const phi30Band1 = [
    [[.343,3.85],[.315,3.3],[.3,2.7],[.31,2.2],[.345,1.86],[.385,2.05],[.397,2.5],[.39,3],[.365,3.5]],
    [[.695,1.25],[.66,1.15],[.642,.95],[.66,.68],[.71,.48],[.76,.52],[.762,.85],[.74,1.1]],
    [[.78,.3],[.81,.33],[.85,.22],[.8,.23]]
];
const phi30Band0 = [
    [[.348,3.28],[.325,2.9],[.32,2.4],[.345,2.05],[.375,2.2],[.39,2.6],[.375,3]],
    [[.7,1.05],[.675,.95],[.672,.7],[.7,.58],[.73,.65],[.735,.9]],
    [[.79,.28],[.815,.27],[.83,.25],[.8,.24]]
];
const phi30Dots = [[.535,4.11],[.557,3.98],[.486,3.8],[.5,3.7],[.464,3.29],[.495,3.39],[.585,3.63],[.634,3.2],[.676,3.14],[.687,3],[.345,4.78],[.491,.94],[.486,1.02],[.381,5.33],[.323,5.84],[.354,5.8],[.815,1.45],[.72,1.88]];
const phi30Rings = [[.224,5.12],[.23,4.34],[.231,3.61],[.235,3],[.612,2.98],[.623,2.81],[.65,2.56],[.268,1.78],[.768,1.78],[.78,1.47]];

// ==================== Panels ====================
const panels = [
    { left: 61, top: 23, soft: [bulkSoftLeft, bulkCliffLow, bulkSoftRight, bulkCliffTop], cliffs: [bulkCliffLow, bulkCliffTop], bands: [bulkBand8, bulkBand7, bulkBand6, bulkBand5, bulkBand4, bulkBand3, bulkBand2, bulkBand1, bulkBand0], dots: bulkDots, rings: bulkRings },
    { left: 529, top: 23, soft: [phi10SoftLeft, phi10CliffLow, phi10SoftRight, phi10CliffTop], cliffs: [phi10CliffLow, phi10CliffTop], bands: [phi10Band8, phi10Band7, phi10Band6, phi10Band5, phi10Band4, phi10Band3, phi10Band2, phi10Band1, phi10Band0], dots: phi10Dots, rings: phi10Rings },
    { left: 61, top: 358, soft: [phi20SoftLeft, phi20CliffLow, phi20SoftRight, phi20CliffTop], cliffs: [phi20CliffLow, phi20CliffTop], bands: [phi20Band8, phi20Band7, phi20Band6, phi20Band5, phi20Band4, phi20Band3, phi20Band2, phi20Band1, phi20Band0], dots: phi20Dots, rings: phi20Rings },
    { left: 529, top: 358, soft: [phi30SoftLeft, phi30CliffLow, phi30SoftRight, phi30CliffTop], cliffs: [phi30CliffLow, phi30CliffTop], bands: [phi30Band8, phi30Band7, phi30Band6, phi30Band5, phi30Band4, phi30Band3, phi30Band2, phi30Band1, phi30Band0], dots: phi30Dots, rings: phi30Rings }
];
const tags = [
    { left: 248, top: 50, color: '#000', html: 'Bulk' },
    { left: 718, top: 44, color: '#0a6fb8', html: '<i>Φ</i><sub>C</sub>=0.10' },
    { left: 250, top: 379, color: '#3db8ee', html: '<i>Φ</i><sub>C</sub>=0.20' },
    { left: 718, top: 379, color: '#6aaa26', html: '<i>Φ</i><sub>C</sub>=0.30' }
];

const FONT = { family: '"Liberation Sans", Arial, sans-serif', size: 20 };
const TEXT = '#404040';
const AXIS = '#6a6a6a';
const PLOT_W = 303, PLOT_H = 255, PAD_L = 61, PAD_T = 23, PAD_R = 14, PAD_B = 60;

function toPoints(list) {
    return list.map(p => ({ x: p[0], y: p[1] }));
}

function polygon(list, color, lineColor, lineWidth, z, curve) {
    return {
        data: toPoints(list.concat([list[0]])),
        showLine: true,
        fill: 'shape',
        backgroundColor: color,
        borderColor: lineColor,
        borderWidth: lineWidth,
        pointRadius: 0,
        tension: curve,
        order: z
    };
}

// ==================== Main contour chart ====================
function makeChart(panel) {
    const canvas = document.createElement('canvas');
    canvas.style.left = (panel.left - PAD_L) + 'px';
    canvas.style.top = (panel.top - PAD_T) + 'px';
    canvas.width = PAD_L + PLOT_W + PAD_R;
    canvas.height = PAD_T + PLOT_H + PAD_B;
    document.body.appendChild(canvas);

    const datasets = [];
    let z = 1000;
    datasets.push(polygon(panel.soft.flat(), bandColors[0], 'rgba(110,120,120,0.8)', 0.8, z--, 0));
    // wide light blue edge of the lavender band, the contour between it and the fringe
    panel.bands[0].forEach(shape => {
        datasets.push(polygon(shape, fringeColor, fringeColor, 5, z--, 0));
    });
    panel.bands.forEach((band, i) => {
        const curve = i >= 2 ? 0.35 : 0;
        band.forEach(shape => {
            datasets.push(polygon(shape, bandColors[i + 1], 'rgba(70,70,70,0.55)', 0.7, z--, curve));
        });
    });
    panel.cliffs.forEach(line => {
        datasets.push({ data: toPoints(line), showLine: true, fill: false, borderColor: '#77777c', borderWidth: 2.4, pointRadius: 0, order: z-- });
    });
    datasets.push({ data: toPoints(panel.dots), showLine: false, pointStyle: 'rectRot', pointRadius: 3, backgroundColor: '#000', borderColor: '#000', borderWidth: 0, order: z-- });
    datasets.push({ data: toPoints(panel.rings), showLine: false, pointStyle: 'circle', pointRadius: 3, backgroundColor: '#fff', borderColor: '#000', borderWidth: 2, order: z-- });

    new Chart(canvas, {
        type: 'scatter',
        data: { datasets },
        options: {
            responsive: false,
            animation: false,
            events: [],
            layout: { autoPadding: false, padding: { top: PAD_T, right: PAD_R, left: 0, bottom: 0 } },
            plugins: { legend: { display: false }, tooltip: { enabled: false } },
            scales: {
                x: {
                    type: 'linear', min: 0, max: 1,
                    afterBuildTicks: s => { s.ticks = qTicks.map(v => ({ value: v })); },
                    afterFit: s => { s.height = PAD_B; },
                    grid: { color: '#e4e4e4', tickColor: AXIS, tickLength: -4, z: -1 },
                    border: { color: AXIS, width: 1.6 },
                    ticks: { color: TEXT, font: FONT, padding: 13, maxRotation: 0, callback: v => String(v) }
                },
                y: {
                    type: 'linear', min: 0, max: 6,
                    afterBuildTicks: s => { s.ticks = rmsdTicks.map(v => ({ value: v })); },
                    afterFit: s => { s.width = PAD_L; },
                    grid: { color: '#e4e4e4', tickColor: AXIS, tickLength: -4, z: -1 },
                    border: { color: AXIS, width: 1.6 },
                    ticks: { color: TEXT, font: FONT, padding: 13, callback: v => String(v) }
                }
            }
        }
    });
    makeColorbar(panel);
    addAxisTitles(panel);
}

// ==================== Colorbar ====================
function makeColorbar(panel) {
    const canvas = document.createElement('canvas');
    canvas.style.left = (panel.left + 327) + 'px';
    canvas.style.top = (panel.top - PAD_T) + 'px';
    canvas.width = 54;
    canvas.height = PAD_T + PLOT_H + PAD_B;
    document.body.appendChild(canvas);

    new Chart(canvas, {
        type: 'bar',
        data: {
            labels: [''],
            datasets: [{
                data: [[energyTicks[0], energyTicks[energyTicks.length - 1]]],
                barPercentage: 1,
                categoryPercentage: 1,
                borderWidth: 1,
                borderSkipped: false,
                borderColor: AXIS,
                backgroundColor: ctx => {
                    const area = ctx.chart.chartArea;
                    if (!area) return '#000';
                    const grad = ctx.chart.ctx.createLinearGradient(0, area.bottom, 0, area.top);
                    colorbarStops.forEach((c, i) => grad.addColorStop(i / (colorbarStops.length - 1), c));
                    return grad;
                }
            }]
        },
        options: {
            responsive: false,
            animation: false,
            events: [],
            layout: { autoPadding: false, padding: { top: PAD_T, bottom: PAD_B, left: 2, right: 0 } },
            plugins: { legend: { display: false }, tooltip: { enabled: false } },
            scales: {
                x: { display: false },
                y: {
                    position: 'right', min: 0, max: 10,
                    afterBuildTicks: s => { s.ticks = energyTicks.map(v => ({ value: v })); },
                    afterFit: s => { s.width = 34; },
                    grid: { color: 'transparent', tickColor: AXIS, tickLength: -3 },
                    border: { display: false },
                    ticks: { color: TEXT, font: FONT, padding: 10, callback: v => String(v) }
                }
            }
        }
    });
}

// ==================== Text outside the canvases ====================
function addAxisTitles(panel) {
    const xt = document.createElement('div');
    xt.className = 'axis-title';
    xt.textContent = qTitle;
    xt.style.left = (panel.left + 146) + 'px';
    xt.style.top = (panel.top + 306) + 'px';
    xt.style.transform = 'translate(-50%, -50%)';
    document.body.appendChild(xt);

    const yt = document.createElement('div');
    yt.className = 'axis-title';
    yt.textContent = rmsdTitle;
    yt.style.left = (panel.left - 39) + 'px';
    yt.style.top = (panel.top + 132) + 'px';
    yt.style.transform = 'translate(-50%, -50%) rotate(-90deg)';
    document.body.appendChild(yt);
}

panels.forEach(makeChart);

tags.forEach(t => {
    const el = document.createElement('div');
    el.className = 'tag';
    el.style.left = t.left + 'px';
    el.style.top = t.top + 'px';
    el.style.color = t.color;
    el.innerHTML = t.html;
    document.body.appendChild(el);
});
</script>
</body>
</html>
